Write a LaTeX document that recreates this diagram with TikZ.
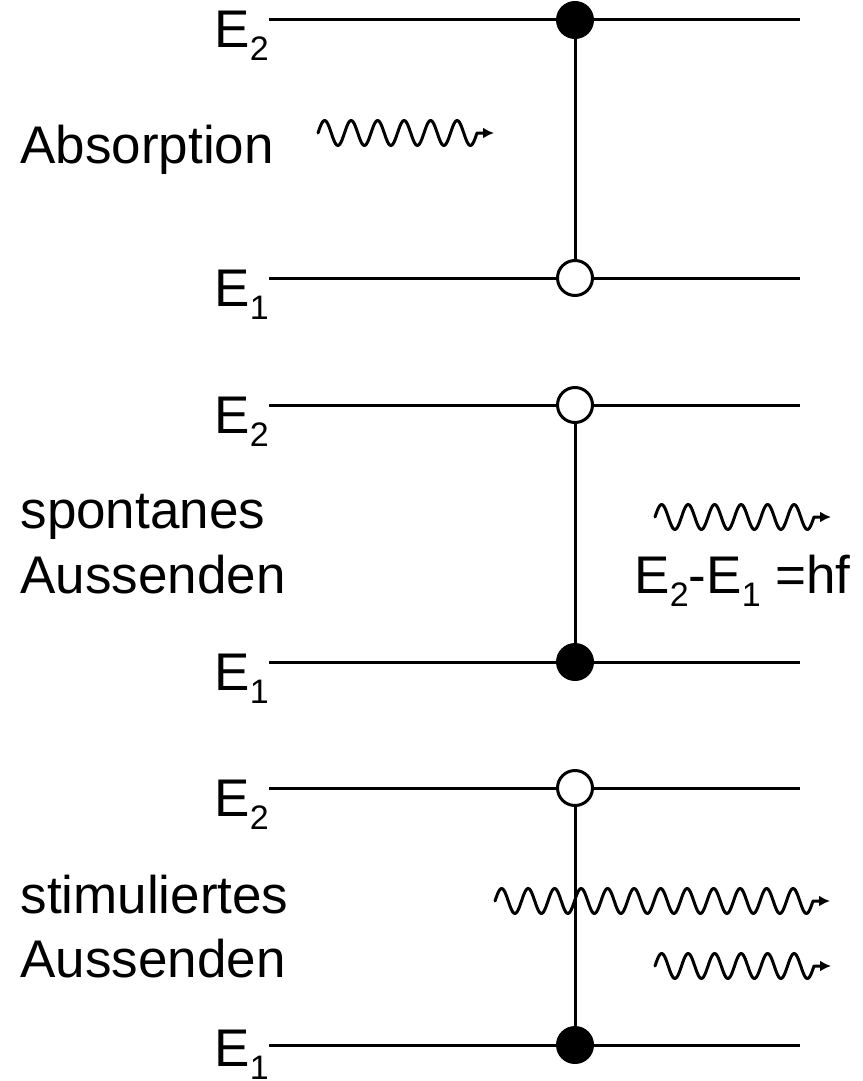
\documentclass[tikz,border=0pt]{standalone}
\usepackage{fontspec}
\setmainfont{Liberation Sans}
\usetikzlibrary{arrows.meta}
% energy level symbol with a lowered index
\newcommand\lvlsym[1]{E\raisebox{-13pt}{\fontsize{34}{34}\selectfont #1}}
% wavy photon: x, y, number of periods, samples
\newcommand\photon[4]{%
  \draw[wave, shift={(#1,#2)}]
    plot[smooth, domain=0:#3*26.5, samples=#4] (\x,{-12.5*sin(\x/26.5*360)})
    -- ++(17,0);}
\begin{document}
\begin{tikzpicture}[x=1pt, y=-1pt, line width=3pt,
  lbl/.style={anchor=base west, inner sep=0pt, font=\fontsize{53}{64}\selectfont},
  state/.style={circle, draw, line width=3pt, minimum size=35pt, inner sep=0pt},
  full/.style={state, fill=black},
  empty/.style={state, fill=white},
  level/.style={line width=3pt},
  wave/.style={line width=3pt, line join=round, line cap=round,
               -{Latex[length=11pt,width=11pt]}}]
\useasboundingbox (0,0) rectangle (862,1081);

% ---------- Absorption ----------
\coordinate (a2l) at (269,20);  \coordinate (a2r) at (800,20);
\coordinate (a1l) at (269,278); \coordinate (a1r) at (800,278);
\node[full]  (a2) at (575,20)  {};
\node[empty] (a1) at (575,278) {};
\draw[level] (a2l) -- (a2) -- (a2r);
\draw[level] (a1l) -- (a1) -- (a1r);
\draw[level] (a2) -- (a1);
\node[lbl] (a2t) at (213,48)  {\lvlsym{2}};
\node[lbl] (a1t) at (213,306) {\lvlsym{1}};
\node[lbl] (atitle) at (19,163) {Absorption};
\photon{318}{133}{6}{145}

% ---------- spontanes Aussenden ----------
\coordinate (s2l) at (269,405); \coordinate (s2r) at (800,405);
\coordinate (s1l) at (269,662); \coordinate (s1r) at (800,662);
\node[empty] (s2) at (575,405) {};
\node[full]  (s1) at (575,662) {};
\draw[level] (s2l) -- (s2) -- (s2r);
\draw[level] (s1l) -- (s1) -- (s1r);
\draw[level] (s2) -- (s1);
\node[lbl] (s2t) at (213,433) {\lvlsym{2}};
\node[lbl] (s1t) at (213,690) {\lvlsym{1}};
\node[lbl] (stitle1) at (19,528) {spontanes};
\node[lbl] (stitle2) at (19,593) {Aussenden};
\photon{655}{517}{6}{145}
\node[lbl] (energy) at (633,593) {\lvlsym{2}-\lvlsym{1} =hf};

% ---------- stimuliertes Aussenden ----------
\coordinate (t2l) at (269,788);  \coordinate (t2r) at (800,788);
\coordinate (t1l) at (269,1045); \coordinate (t1r) at (800,1045);
\node[empty] (t2) at (575,788)  {};
\node[full]  (t1) at (575,1045) {};
\draw[level] (t2l) -- (t2) -- (t2r);
\draw[level] (t1l) -- (t1) -- (t1r);
\draw[level] (t2) -- (t1);
\node[lbl] (t2t) at (213,816)  {\lvlsym{2}};
\node[lbl] (t1t) at (213,1066) {\lvlsym{1}};
\node[lbl] (ttitle1) at (19,913) {stimuliertes};
\node[lbl] (ttitle2) at (19,977) {Aussenden};
\photon{495}{901}{12}{289}
\photon{655}{966}{6}{145}
\end{tikzpicture}
\end{document}
